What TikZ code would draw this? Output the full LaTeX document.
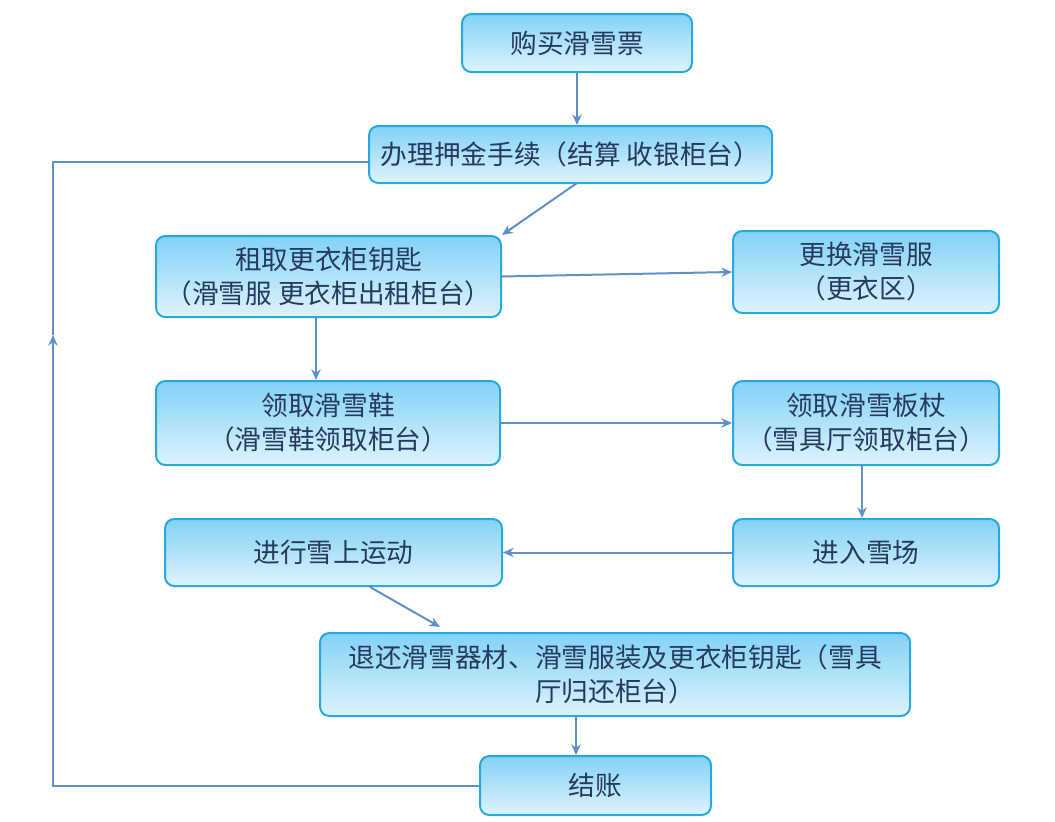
\documentclass[tikz,border=0pt]{standalone}
\usepackage{fontspec}
\setmainfont{Noto Sans CJK SC}
\usetikzlibrary{arrows.meta}
\definecolor{boxedge}{RGB}{40,168,224}
\definecolor{boxtop}{RGB}{130,210,246}
\definecolor{boxbottom}{RGB}{222,243,253}
\definecolor{flowline}{RGB}{96,144,200}
\definecolor{boxtext}{RGB}{38,58,96}
\begin{document}
\begin{tikzpicture}[x=0.75pt, y=-0.75pt,
    stepbox/.style={draw=boxedge, line width=1.5pt, rounded corners=7pt,
        top color=boxtop, bottom color=boxbottom, text=boxtext, align=center,
        font=\fontsize{20}{25.5}\selectfont, inner sep=0pt},
    flow/.style={flowline, line width=1.5pt, -{Stealth[length=8pt,width=7pt]}}]
    \useasboundingbox (0,0) rectangle (1055,821);

    \node[stepbox, minimum width=230*0.75pt, minimum height=58*0.75pt] (ticket) at (577,43) {购买滑雪票};
    \node[stepbox, minimum width=403*0.75pt, minimum height=57*0.75pt] (deposit) at (570.5,154.5) {办理押金手续（结算 收银柜台）};
    \node[stepbox, minimum width=345*0.75pt, minimum height=81*0.75pt] (locker) at (328.5,276.5) {租取更衣柜钥匙\\（滑雪服 更衣柜出租柜台）};
    \node[stepbox, minimum width=266*0.75pt, minimum height=82*0.75pt] (change) at (866,272) {更换滑雪服\\（更衣区）};
    \node[stepbox, minimum width=344*0.75pt, minimum height=84*0.75pt] (boots) at (328,423) {领取滑雪鞋\\（滑雪鞋领取柜台）};
    \node[stepbox, minimum width=266*0.75pt, minimum height=84*0.75pt] (skis) at (866,423) {领取滑雪板杖\\（雪具厅领取柜台）};
    \node[stepbox, minimum width=266*0.75pt, minimum height=67*0.75pt] (enter) at (866,552.5) {进入雪场};
    \node[stepbox, minimum width=337*0.75pt, minimum height=67*0.75pt] (skiing) at (333.5,552.5) {进行雪上运动};
    \node[stepbox, minimum width=590*0.75pt, minimum height=83*0.75pt] (return) at (615,674.5) {退还滑雪器材、滑雪服装及更衣柜钥匙（雪具\\厅归还柜台）};
    \node[stepbox, minimum width=231*0.75pt, minimum height=59*0.75pt] (checkout) at (595.5,785.5) {结账};

    \coordinate (depositout) at (577,183);
    \coordinate (lockerout) at (316,317);
    \coordinate (skisout) at (862,465);
    \coordinate (skiingout) at (370,587);
    \coordinate (returnin) at (440,627);
    \coordinate (returnout) at (576,716);
    \coordinate (loopcorner) at (53,785.5);
    \coordinate (looptop) at (53,162);
    \coordinate (loopmid) at (53,335);

    \draw[flow] (ticket.south) -- (ticket.south |- deposit.north);
    \draw[flow] (depositout) -- (locker.north east);
    \draw[flow] (locker.east) -- (change.west);
    \draw[flow] (lockerout) -- (lockerout |- boots.north);
    \draw[flow] (boots.east) -- (skis.west);
    \draw[flow] (skisout) -- (skisout |- enter.north);
    \draw[flow] (enter.west) -- (skiing.east);
    \draw[flow] (skiingout) -- (returnin);
    \draw[flow] (returnout) -- (returnout |- checkout.north);

    % loop back from checkout to the deposit counter
    \draw[flow] (checkout.west) -- (loopcorner) -- (loopmid);
    \draw[flowline, line width=1.5pt] (loopmid) -- (looptop) -- (deposit.west |- looptop);
\end{tikzpicture}
\end{document}
